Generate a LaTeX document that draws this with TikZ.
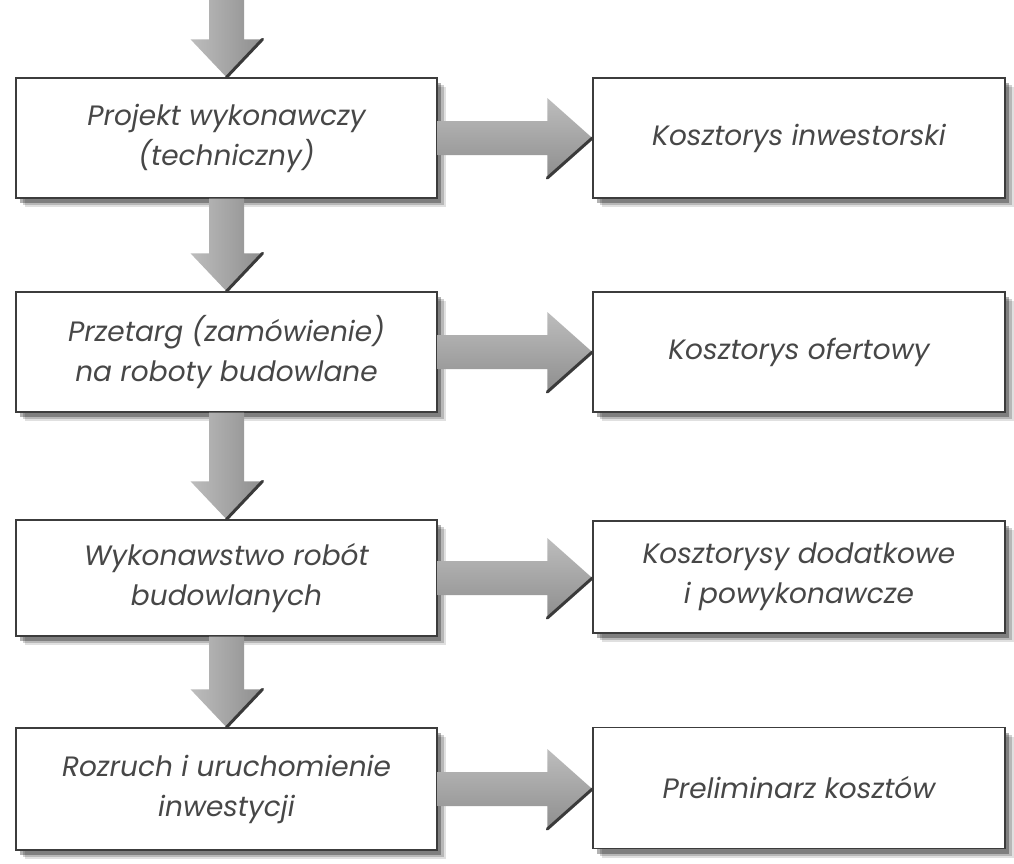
\documentclass[tikz,border=0pt]{standalone}
\usepackage{fontspec}
\setmainfont{Poppins}
\usetikzlibrary{calc,shadows}
\definecolor{txt}{HTML}{474747}
\definecolor{edge}{HTML}{3C3C3C}
\definecolor{arrowlight}{HTML}{BDBDBD}
\definecolor{arrowdark}{HTML}{8E8E8E}
\definecolor{arrowedge}{HTML}{3A3A3A}
\tikzset{
  boxnode/.style={draw=edge, line width=1.4pt, fill=white, inner sep=0pt, align=center,
    text=txt, font=\fontsize{28}{40}\selectfont\itshape,
    drop shadow={shadow xshift=9pt, shadow yshift=-9pt, fill=black, opacity=0.12},
    drop shadow={shadow xshift=7pt, shadow yshift=-7pt, fill=black, opacity=0.18},
    drop shadow={shadow xshift=4pt, shadow yshift=-5pt, fill=black, opacity=0.3}},
  lbox/.style={boxnode, minimum width=421pt},
  rbox/.style={boxnode, minimum width=412pt},
  arrowtipedge/.style={arrowedge, line width=3pt, line cap=round},
}
\newcommand\myvarrow[2]{%
  \shade[left color=arrowlight, right color=arrowdark] let \p1=(#1), \p2=(#2) in
    (\x1-17.5pt,\y1) -- (\x1+17.5pt,\y1) -- (\x1+17.5pt,\y2+38pt) -- (\x1+36pt,\y2+38pt)
    -- (\x1,\y2) -- (\x1-36pt,\y2+38pt) -- (\x1-17.5pt,\y2+38pt) -- cycle;
  \draw[arrowtipedge] let \p1=(#1), \p2=(#2) in (\x1+36pt,\y2+38pt) -- (\x1,\y2);
}
\newcommand\myharrow[2]{%
  \shade[top color=arrowlight, bottom color=arrowdark] let \p1=(#1), \p2=(#2) in
    (\x1,\y1+17pt) -- (\x2-45pt,\y1+17pt) -- (\x2-45pt,\y1+40pt) -- (\x2,\y1)
    -- (\x2-45pt,\y1-40pt) -- (\x2-45pt,\y1-17pt) -- (\x1,\y1-17pt) -- cycle;
  \draw[arrowtipedge] let \p1=(#1), \p2=(#2) in (\x2-45pt,\y1-40pt) -- (\x2,\y1);
}
\begin{document}
\begin{tikzpicture}[x=1pt, y=-1pt]
\useasboundingbox[fill=white] (0,0) rectangle (1014,863);

\node[lbox, minimum height=120pt] (L1) at (226.5,138) {Projekt wykonawczy\\(techniczny)};
\node[lbox, minimum height=120pt] (L2) at (226.5,352) {Przetarg (zamówienie)\\na roboty budowlane};
\node[lbox, minimum height=116pt] (L3) at (226.5,578) {Wykonawstwo robót\\budowlanych};
\node[lbox, minimum height=122pt] (L4) at (226.5,789) {Rozruch i uruchomienie\\inwestycji};

\node[rbox, minimum height=120pt] (R1) at (799,138) {Kosztorys inwestorski};
\node[rbox, minimum height=120pt] (R2) at (799,352) {Kosztorys ofertowy};
\node[rbox, minimum height=112pt] (R3) at (799,577) {Kosztorysy dodatkowe\\i powykonawcze};
\node[rbox, minimum height=121pt] (R4) at (799,788) {Preliminarz kosztów};

\coordinate (top) at (226.5,0);

\myvarrow{top}{L1.north}
\myvarrow{L1.south}{L2.north}
\myvarrow{L2.south}{L3.north}
\myvarrow{L3.south}{L4.north}

\myharrow{L1.east}{R1.west}
\myharrow{L2.east}{R2.west}
\myharrow{L3.east}{R3.west}
\myharrow{L4.east}{R4.west}
\end{tikzpicture}
\end{document}
